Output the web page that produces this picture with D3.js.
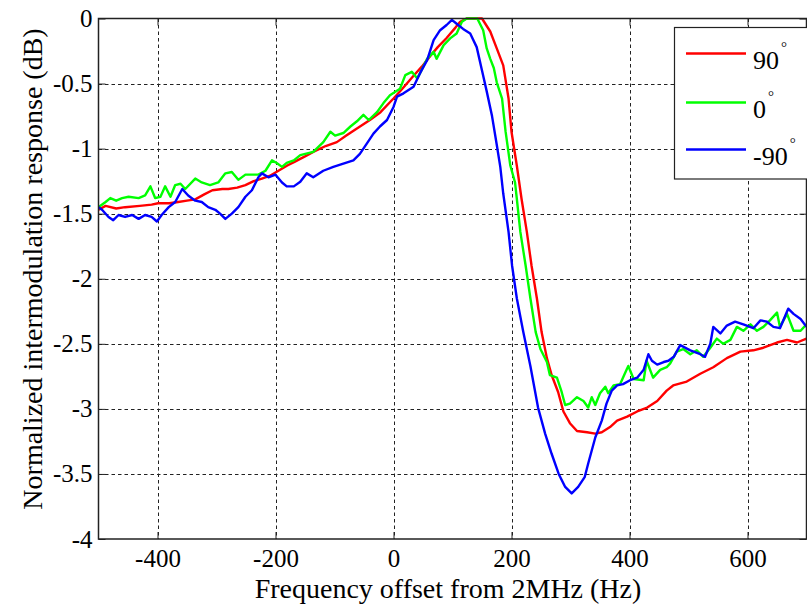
<!DOCTYPE html>
<html>
<head>
<meta charset="utf-8">
<script src="https://cdn.jsdelivr.net/npm/d3@7"></script>
<style>
  html, body { margin: 0; padding: 0; background: #fff; }
  svg { display: block; }
</style>
</head>
<body>
<svg id="chart" width="807" height="607"></svg>
<script>
// Intermodulation response vs. frequency offset, one trace per phase angle.
// Each trace: [frequency offset (Hz), normalized response (dB)]
const trace90 = [
  [-500,-1.47],[-488,-1.44],[-470,-1.46],[-455,-1.45],[-430,-1.44],[-410,-1.43],[-399,-1.42],[-380,-1.42],
  [-365,-1.41],[-350,-1.40],[-336,-1.39],[-320,-1.35],[-307,-1.32],[-290,-1.31],[-280,-1.31],[-265,-1.30],
  [-251,-1.28],[-237,-1.25],[-223,-1.23],[-210,-1.21],[-195,-1.17],[-180,-1.13],[-167,-1.10],[-150,-1.06],
  [-136,-1.025],[-115,-0.98],[-96,-0.95],[-80,-0.90],[-62,-0.845],[-40,-0.78],[-22,-0.72],[0,-0.615],
  [15,-0.54],[34,-0.44],[48,-0.37],[62,-0.29],[75,-0.22],[90,-0.15],[105,-0.07],[113,-0.025],[124,0],
  [150,0],[164,-0.10],[175,-0.23],[186,-0.36],[195,-0.615],[200,-0.87],[209,-1.13],[217,-1.385],
  [226,-1.64],[234,-1.90],[243,-2.15],[251,-2.41],[260,-2.61],[268,-2.74],[279,-2.87],[288,-3.02],
  [299,-3.11],[311,-3.17],[328,-3.18],[342,-3.19],[353,-3.18],[367,-3.14],[379,-3.09],[396,-3.06],
  [413,-3.02],[430,-2.99],[447,-2.94],[463,-2.86],[474,-2.82],[497,-2.79],[520,-2.73],[542,-2.68],
  [565,-2.61],[588,-2.56],[610,-2.55],[627,-2.53],[650,-2.49],[667,-2.47],[684,-2.49],[700,-2.46]
];
const trace0 = [
  [-500,-1.45],[-488,-1.41],[-480,-1.38],[-470,-1.40],[-460,-1.38],[-449,-1.37],[-432,-1.38],[-421,-1.36],
  [-412,-1.29],[-404,-1.38],[-395,-1.37],[-387,-1.29],[-378,-1.37],[-370,-1.28],[-361,-1.27],[-353,-1.31],
  [-336,-1.23],[-325,-1.26],[-311,-1.28],[-297,-1.26],[-285,-1.19],[-274,-1.18],[-263,-1.24],[-251,-1.20],
  [-240,-1.20],[-229,-1.20],[-217,-1.17],[-206,-1.09],[-198,-1.11],[-189,-1.14],[-181,-1.11],[-169,-1.09],
  [-158,-1.05],[-136,-1.025],[-119,-0.95],[-107,-0.87],[-99,-0.90],[-85,-0.88],[-73,-0.83],[-62,-0.79],
  [-51,-0.74],[-42,-0.78],[-28,-0.72],[-17,-0.65],[-6,-0.59],[11,-0.54],[20,-0.435],[31,-0.41],[40,-0.46],
  [45,-0.42],[57,-0.31],[68,-0.256],[73,-0.31],[85,-0.205],[96,-0.153],[107,-0.115],[116,-0.025],[124,0],
  [142,0],[152,-0.09],[158,-0.23],[164,-0.31],[170,-0.38],[175,-0.49],[184,-0.615],[190,-0.87],[198,-1.13],
  [206,-1.26],[209,-1.385],[215,-1.64],[224,-1.90],[232,-2.15],[241,-2.41],[249,-2.54],[260,-2.64],
  [265,-2.74],[277,-2.76],[285,-2.87],[291,-2.97],[299,-2.96],[311,-2.91],[322,-2.94],[330,-2.99],
  [336,-2.91],[342,-2.97],[350,-2.88],[359,-2.83],[364,-2.88],[373,-2.82],[384,-2.81],[395,-2.70],
  [398,-2.67],[407,-2.77],[424,-2.78],[429,-2.63],[440,-2.76],[452,-2.70],[463,-2.68],[469,-2.65],
  [480,-2.56],[491,-2.54],[503,-2.58],[514,-2.55],[525,-2.60],[537,-2.53],[548,-2.46],[559,-2.50],
  [571,-2.47],[582,-2.37],[593,-2.40],[605,-2.35],[616,-2.40],[627,-2.37],[638,-2.32],[650,-2.26],
  [655,-2.37],[667,-2.27],[678,-2.40],[690,-2.40],[700,-2.35]
];
const traceMinus90 = [
  [-500,-1.45],[-494,-1.47],[-483,-1.525],[-475,-1.55],[-466,-1.51],[-455,-1.525],[-443,-1.51],[-432,-1.54],
  [-421,-1.51],[-410,-1.525],[-401,-1.56],[-393,-1.51],[-381,-1.45],[-370,-1.41],[-358,-1.31],[-348,-1.36],
  [-336,-1.40],[-325,-1.41],[-314,-1.45],[-302,-1.47],[-294,-1.50],[-285,-1.54],[-274,-1.50],[-263,-1.45],
  [-251,-1.37],[-240,-1.32],[-229,-1.22],[-223,-1.19],[-212,-1.22],[-200,-1.20],[-189,-1.26],[-181,-1.29],
  [-169,-1.29],[-158,-1.255],[-147,-1.19],[-136,-1.22],[-119,-1.17],[-102,-1.14],[-85,-1.115],[-68,-1.09],
  [-57,-1.04],[-45,-0.96],[-34,-0.885],[-23,-0.83],[-11,-0.78],[0,-0.68],[6,-0.60],[17,-0.575],[34,-0.525],
  [45,-0.42],[57,-0.32],[68,-0.166],[79,-0.09],[90,-0.05],[99,-0.01],[107,-0.04],[118,-0.08],[130,-0.115],
  [141,-0.22],[150,-0.40],[158,-0.56],[167,-0.75],[175,-0.97],[181,-1.14],[186,-1.345],[195,-1.64],
  [201,-1.90],[209,-2.15],[220,-2.41],[232,-2.67],[245,-2.99],[257,-3.19],[268,-3.345],[280,-3.50],
  [291,-3.60],[302,-3.65],[313,-3.60],[324,-3.525],[330,-3.42],[336,-3.32],[342,-3.22],[353,-3.09],
  [361,-2.96],[370,-2.86],[379,-2.82],[389,-2.81],[401,-2.78],[413,-2.76],[424,-2.70],[432,-2.58],
  [438,-2.63],[447,-2.66],[458,-2.64],[466,-2.63],[475,-2.60],[486,-2.51],[503,-2.55],[520,-2.58],
  [528,-2.60],[537,-2.50],[542,-2.37],[554,-2.42],[565,-2.36],[579,-2.33],[593,-2.35],[610,-2.38],
  [622,-2.32],[633,-2.33],[644,-2.37],[655,-2.38],[669,-2.23],[678,-2.27],[690,-2.31],[700,-2.37]
];

const seriesNames = ["90", "0", "-90"];
const seriesColors = ["#ff0000", "#00ff00", "#0000ff"];
const seriesData = [trace90, trace0, traceMinus90];

const xTicks = [-400, -200, 0, 200, 400, 600];
const yTicks = [0, -0.5, -1, -1.5, -2, -2.5, -3, -3.5, -4];
const xDomain = [-500, 700];
const yDomain = [-4, 0];
const xTitle = "Frequency offset from 2MHz (Hz)";
const yTitle = "Normalized intermodulation response (dB)";

const FONT = "'Liberation Serif', 'Times New Roman', serif";

// Plot frame
const margin = { left: 98.5, top: 18.5, right: 806.5, bottom: 539 };
const svg = d3.select("#chart");

const x = d3.scaleLinear().domain(xDomain).range([margin.left, margin.right]);
const y = d3.scaleLinear().domain(yDomain).range([margin.bottom, margin.top]);

// Dashed grid
const grid = svg.append("g").attr("stroke", "#222").attr("stroke-width", 1)
  .attr("stroke-dasharray", "3.5,3").attr("fill", "none");
grid.selectAll("line.v").data(xTicks).join("line").attr("class", "v")
  .attr("x1", d => Math.round(x(d)) + 0.5).attr("x2", d => Math.round(x(d)) + 0.5)
  .attr("y1", margin.top).attr("y2", margin.bottom);
grid.selectAll("line.h").data(yTicks.filter(d => d > yDomain[0] && d < yDomain[1])).join("line").attr("class", "h")
  .attr("y1", d => Math.round(y(d)) + 0.5).attr("y2", d => Math.round(y(d)) + 0.5)
  .attr("x1", margin.left).attr("x2", margin.right);

// Axes with inward ticks
const fmt = d => (d === 0 ? "0" : String(d));
const xAxisBottom = d3.axisBottom(x).tickValues(xTicks).tickSizeInner(-7).tickSizeOuter(0).tickPadding(14).tickFormat(fmt);
const xAxisTop = d3.axisTop(x).tickValues(xTicks).tickSizeInner(-7).tickSizeOuter(0).tickFormat("");
const yAxisLeft = d3.axisLeft(y).tickValues(yTicks).tickSizeInner(-7).tickSizeOuter(0).tickPadding(14).tickFormat(fmt);
const yAxisRight = d3.axisRight(y).tickValues(yTicks).tickSizeInner(-7).tickSizeOuter(0).tickFormat("");

function styleAxis(g) {
  g.attr("font-family", null).attr("font-size", null);
  g.select(".domain").remove();
  g.selectAll(".tick line").attr("stroke", "#222");
  g.selectAll("text").style("font-family", FONT).style("font-size", "25px").attr("fill", "#000");
}
svg.append("g").attr("transform", `translate(0,${margin.bottom})`).call(xAxisBottom).call(styleAxis)
  .selectAll("text").attr("dy", null).attr("y", 28);
svg.append("g").attr("transform", `translate(0,${margin.top})`).call(xAxisTop).call(styleAxis);
svg.append("g").attr("transform", `translate(${margin.left},0)`).call(yAxisLeft).call(styleAxis)
  .selectAll("text").attr("x", -6);
svg.append("g").attr("transform", `translate(${margin.right},0)`).call(yAxisRight).call(styleAxis);

// Traces
svg.append("clipPath").attr("id", "plotClip").append("rect")
  .attr("x", margin.left).attr("y", margin.top - 2)
  .attr("width", margin.right - margin.left).attr("height", margin.bottom - margin.top + 4);

const line = d3.line().x(d => x(d[0])).y(d => y(d[1]));
svg.append("g").attr("clip-path", "url(#plotClip)")
  .selectAll("path").data(seriesData).join("path")
  .attr("d", line)
  .attr("fill", "none")
  .attr("stroke", (d, i) => seriesColors[i])
  .attr("stroke-width", 2.4)
  .attr("stroke-linejoin", "round");

// Frame box
svg.append("rect")
  .attr("x", margin.left).attr("y", margin.top)
  .attr("width", margin.right - margin.left).attr("height", margin.bottom - margin.top)
  .attr("fill", "none").attr("stroke", "#222").attr("stroke-width", 1.5);

// Legend
const legend = svg.append("g");
legend.append("rect")
  .attr("x", 674.5).attr("y", 27.5).attr("width", 140).attr("height", 151.5)
  .attr("fill", "#fff").attr("stroke", "#222").attr("stroke-width", 1.2);
const rowY = [53.5, 102.5, 149.5];
seriesNames.forEach((name, i) => {
  legend.append("line")
    .attr("x1", 686).attr("x2", 746).attr("y1", rowY[i]).attr("y2", rowY[i])
    .attr("stroke", seriesColors[i]).attr("stroke-width", 2.4);
  const t = legend.append("text")
    .attr("x", 753).attr("y", rowY[i] + 15)
    .style("font-family", FONT).style("font-size", "26px").attr("fill", "#000");
  t.append("tspan").text(name);
  t.append("tspan").style("font-size", "15px").attr("dx", 2).attr("dy", -17).text("°");
});

// Axis titles
svg.append("text")
  .attr("x", 448).attr("y", 598)
  .attr("text-anchor", "middle")
  .style("font-family", FONT).style("font-size", "28px").attr("fill", "#000")
  .text(xTitle);
svg.append("text")
  .attr("transform", `translate(42,269) rotate(-90)`)
  .attr("text-anchor", "middle")
  .style("font-family", FONT).style("font-size", "28px").attr("fill", "#000")
  .text(yTitle);
</script>
</body>
</html>
